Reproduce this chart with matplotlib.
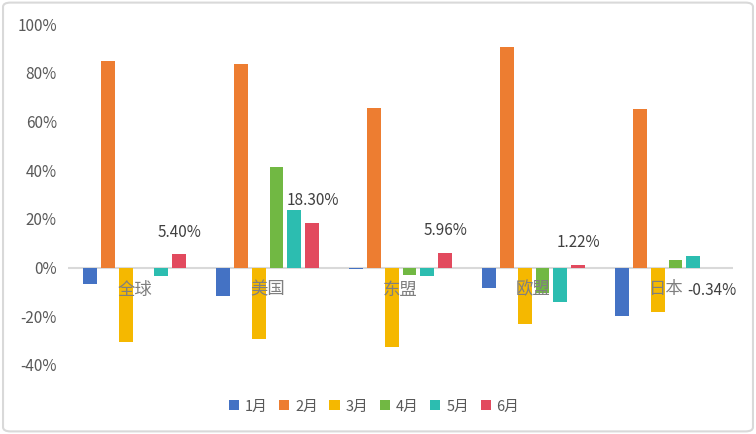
import numpy as np
import matplotlib.pyplot as plt
from matplotlib.patches import FancyBboxPatch

plt.rcParams['font.family'] = ['Noto Sans CJK SC', 'DejaVu Sans']

# data (percent)
regions = ['全球', '美国', '东盟', '欧盟', '日本']
months = ['1月', '2月', '3月', '4月', '5月', '6月']
jan = [-6.8, -11.6, -0.7, -8.3, -19.8]
feb = [84.8, 83.6, 65.5, 90.6, 65.1]
mar = [-30.5, -29.2, -32.5, -23.1, -18.1]
apr = [0.0, 41.3, -3.1, -10.3, 3.1]
may = [-3.5, 23.6, -3.5, -14.0, 4.7]
jun = [5.40, 18.30, 5.96, 1.22, -0.34]
series = [jan, feb, mar, apr, may, jun]
colors = ['#4472C4', '#ED7D31', '#F5B800', '#71B843', '#2CBDB0', '#E24A5E']
yticks = [-40, -20, 0, 20, 40, 60, 80, 100]


def main():
    fig = plt.figure(figsize=(7.56, 4.34), dpi=100)
    ax = fig.add_axes([0.09, 0.159, 0.8796, 0.7857])

    # light frame round the whole picture
    fig.patches.append(FancyBboxPatch((0.004, 0.006), 0.992, 0.988,
                                      boxstyle='round,pad=0,rounding_size=0.01',
                                      transform=fig.transFigure, fill=False,
                                      edgecolor='#d9d9d9', linewidth=1.5))

    x = np.arange(len(regions))
    step = 0.135
    width = 0.105
    for i, (vals, name, c) in enumerate(zip(series, months, colors)):
        pos = x + (i - 2.5) * step
        ax.bar(pos, vals, width, color=c, label=name, zorder=2)

    # labels on the june bars
    for xi, v in zip(x + 2.5 * step, jun):
        off = 16 if v >= 0 else -16
        ax.annotate('%.2f%%' % v, (xi, v), xytext=(0, off),
                    textcoords='offset points', ha='center', va='center',
                    fontsize=11, color='#404040', zorder=4)

    ax.axhline(0, color='#d9d9d9', linewidth=1.5, zorder=1)

    # category names sit just under the zero line
    for xi, r in zip(x, regions):
        ax.text(xi, -9, r, ha='center', va='center', fontsize=12.5,
                color='#7f7f7f', zorder=3)

    ax.set_xlim(-0.5, len(regions) - 0.5)
    ax.set_ylim(-40, 100)
    ax.set_yticks(yticks)
    ax.set_yticklabels(['%d%%' % t for t in yticks], fontsize=11, color='#595959')
    ax.set_xticks([])
    ax.tick_params(axis='y', length=0, pad=8)
    for s in ax.spines.values():
        s.set_visible(False)

    ax.legend(loc='center', bbox_to_anchor=(0.5 - 0.09 / 2 + 0.005, -0.147 / 0.7857 * 0.65),
              ncol=6, frameon=False, fontsize=10.5, handlelength=0.7,
              handleheight=0.7, handletextpad=0.4, columnspacing=0.8,
              labelcolor='#595959')

    fig.savefig('out.png', dpi=100)


if __name__ == '__main__':
    main()
